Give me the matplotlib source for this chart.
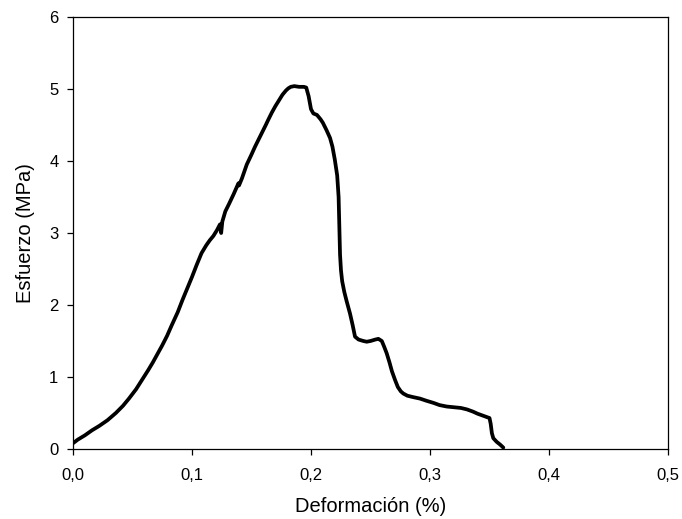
import matplotlib
matplotlib.use("Agg")
import matplotlib.pyplot as plt

plt.rcParams['font.family'] = ['Liberation Sans', 'DejaVu Sans']

# Strain (%) and stress (MPa)
deformacion = [0.000, 0.004, 0.010, 0.016, 0.022, 0.029, 0.036, 0.042, 0.047,
               0.053, 0.058, 0.063, 0.067, 0.071, 0.075, 0.079, 0.083, 0.088,
               0.092, 0.096, 0.100, 0.104, 0.108, 0.112, 0.115, 0.118, 0.121,
               0.1235, 0.1245, 0.1255, 0.128, 0.131, 0.135, 0.139, 0.1395,
               0.142, 0.146, 0.150, 0.153, 0.156, 0.159, 0.162, 0.164, 0.167,
               0.170, 0.173, 0.176, 0.179, 0.181, 0.183, 0.186, 0.190, 0.194,
               0.196, 0.198, 0.200, 0.202, 0.205, 0.208, 0.210, 0.213,
               0.216, 0.218, 0.220, 0.222, 0.2232, 0.2238, 0.2244, 0.2252,
               0.2262, 0.228, 0.230, 0.2328, 0.235, 0.237, 0.240, 0.244, 0.2468,
               0.250, 0.254, 0.2566, 0.2595, 0.2615, 0.2636, 0.266, 0.268,
               0.2706, 0.273, 0.2755, 0.2776, 0.281, 0.286, 0.2916, 0.297,
               0.303, 0.308, 0.314, 0.320, 0.326, 0.331, 0.336, 0.340, 0.345,
               0.350, 0.351, 0.352, 0.3532, 0.356, 0.359, 0.3616]
esfuerzo = [0.08, 0.13, 0.19, 0.26, 0.32, 0.40, 0.50, 0.60, 0.70,
            0.83, 0.96, 1.09, 1.20, 1.32, 1.44, 1.57, 1.72, 1.90,
            2.07, 2.23, 2.39, 2.56, 2.72, 2.83, 2.90, 2.96, 3.04,
            3.12, 3.00, 3.16, 3.30, 3.40, 3.54, 3.69, 3.66,
            3.76, 3.95, 4.09, 4.20, 4.30, 4.40, 4.50, 4.57, 4.67,
            4.76, 4.84, 4.92, 4.98, 5.01, 5.03, 5.04, 5.03, 5.03,
            5.02, 4.90, 4.72, 4.66, 4.64, 4.58, 4.53, 4.43,
            4.32, 4.20, 4.02, 3.80, 3.50, 3.10, 2.70, 2.48,
            2.33, 2.18, 2.05, 1.88, 1.72, 1.56, 1.52, 1.50, 1.49,
            1.50, 1.52, 1.53, 1.50, 1.42, 1.33, 1.20, 1.08,
            0.96, 0.86, 0.80, 0.77, 0.74, 0.72, 0.70, 0.67,
            0.64, 0.61, 0.59, 0.58, 0.57, 0.55, 0.52, 0.49, 0.46,
            0.43, 0.35, 0.22, 0.15, 0.10, 0.06, 0.02]

xticks = [0.0, 0.1, 0.2, 0.3, 0.4, 0.5]
xticklabels = ["0,0", "0,1", "0,2", "0,3", "0,4", "0,5"]
yticks = [0, 1, 2, 3, 4, 5, 6]
yticklabels = ["0", "1", "2", "3", "4", "5", "6"]

fig = plt.figure(figsize=(6.82, 5.19), dpi=100)
ax = fig.add_axes([73/682, 1 - 449/519, (668 - 73)/682, (449 - 17)/519])

ax.plot(deformacion, esfuerzo, color='black', linewidth=2.7,
        solid_joinstyle='round', solid_capstyle='round')

ax.set_xlim(0, 0.5)
ax.set_ylim(0, 6)
ax.set_xticks(xticks)
ax.set_xticklabels(xticklabels)
ax.set_yticks(yticks)
ax.set_yticklabels(yticklabels)

for s in ax.spines.values():
    s.set_linewidth(0.9)
    s.set_color('black')

ax.tick_params(direction='out', length=4.5, width=0.9, labelsize=12,
               top=False, right=False)
ax.tick_params(axis='x', pad=9)
ax.tick_params(axis='y', pad=6)

ax.set_xlabel("Deformación (%)", fontsize=14.5, labelpad=10)
ax.set_ylabel("Esfuerzo (MPa)", fontsize=14.5, labelpad=10)

fig.savefig("out.png", dpi=100)
